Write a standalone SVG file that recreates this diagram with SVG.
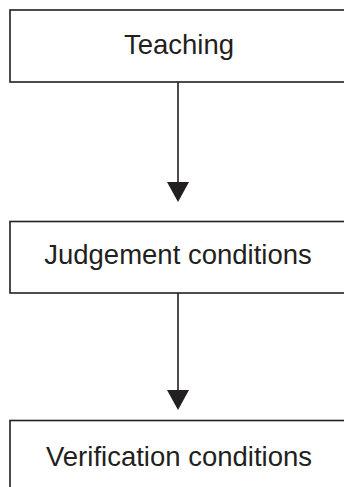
<svg xmlns="http://www.w3.org/2000/svg" width="344" height="487" viewBox="0 0 344 487">
<style>
.box{fill:#fff;stroke:#231f20;stroke-width:1.6}
.lbl{font-family:"Liberation Sans",Arial,sans-serif;font-size:27.5px;fill:#231f20;text-anchor:middle}
.conn{stroke:#231f20;stroke-width:1.6;fill:none}
.head{fill:#231f20}
</style>
<rect width="344" height="487" fill="#fff"/>
<g id="connectors">
<line class="conn" x1="178" y1="82" x2="178" y2="184"/>
<polygon class="head" points="167,182 189,182 178,202"/>
<line class="conn" x1="178" y1="293" x2="178" y2="392"/>
<polygon class="head" points="167,390 189,390 178,410"/>
</g>
<g id="teaching">
<rect class="box" x="10" y="10" width="350" height="72"/>
<text class="lbl" x="179" y="53.5">Teaching</text>
</g>
<g id="judgement">
<rect class="box" x="10" y="221.5" width="350" height="71.5"/>
<text class="lbl" x="178" y="264.3">Judgement conditions</text>
</g>
<g id="verification">
<rect class="box" x="10" y="420.5" width="350" height="80"/>
<text class="lbl" x="179" y="466">Verification conditions</text>
</g>
</svg>
